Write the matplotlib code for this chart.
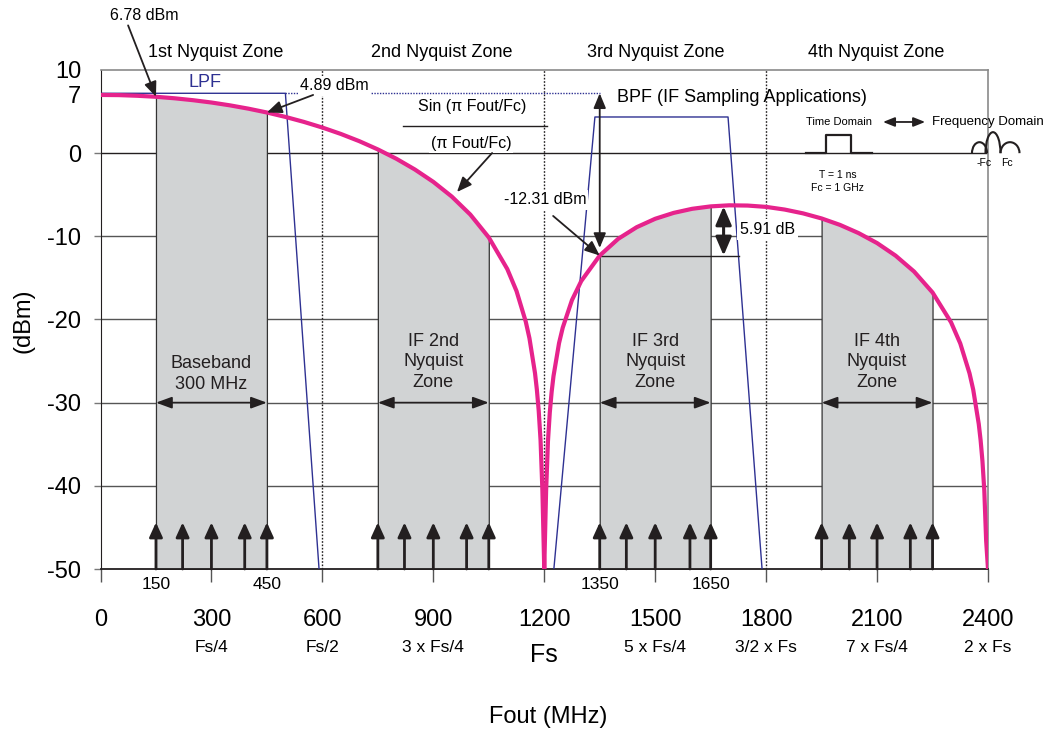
import numpy as np
import matplotlib.pyplot as plt
from matplotlib.patches import Arc

plt.rcParams['font.family'] = ['Liberation Sans', 'DejaVu Sans']

# sin(x)/x output response (MHz -> dBm)
freq_mhz = [0, 50, 100, 150, 200, 250, 300, 350, 400, 450, 500, 550, 600,
            650, 700, 750, 800, 850, 900, 950, 1000, 1050, 1100, 1125, 1150,
            1160, 1175, 1180, 1185, 1190, 1195, 1200, 1205, 1210, 1215, 1220,
            1225, 1240, 1250, 1275, 1300, 1350,
            1400, 1450, 1500, 1550, 1600, 1650, 1700, 1750, 1800, 1850, 1900,
            1950, 2000, 2050, 2100, 2150, 2200, 2250, 2300, 2325, 2350, 2360,
            2375, 2380, 2385, 2390, 2395, 2400]
level_dbm = [7.00, 6.98, 6.90, 6.78, 6.60, 6.37, 6.09, 5.75, 5.35, 4.89, 4.36,
             3.76, 3.08, 2.31, 1.44, 0.45, -0.67, -1.96, -3.45, -5.22, -7.38,
             -10.13, -13.93, -16.58, -20.26,
             -22.26, -26.45, -28.42, -30.96, -34.51, -40.57, -50.0, -40.64,
             -34.66, -31.17, -28.71, -26.81, -22.84, -20.98, -17.66, -15.38,
             -12.31, -10.30,
             -8.90, -7.89, -7.18, -6.69, -6.40, -6.27, -6.30, -6.46, -6.78,
             -7.24, -7.85, -8.63, -9.61, -10.81, -12.32, -14.23, -16.75,
             -20.33, -22.88, -26.47, -28.43, -32.56, -34.51, -37.03, -40.57,
             -46.6, -50.0]

# signal bands and tones
zone_edges = [(150, 450), (750, 1050), (1350, 1650), (1950, 2250)]
zone_tones = [[150, 222, 300, 390, 450],
              [750, 822, 900, 990, 1050],
              [1350, 1422, 1500, 1594, 1650],
              [1950, 2025, 2100, 2190, 2250]]
zone_labels = ["Baseband\n300 MHz", "IF 2nd\nNyquist\nZone",
               "IF 3rd\nNyquist\nZone", "IF 4th\nNyquist\nZone"]
nyquist_titles = ["1st Nyquist Zone", "2nd Nyquist Zone",
                  "3rd Nyquist Zone", "4th Nyquist Zone"]
nyquist_title_x = [312, 923, 1502, 2097]
nyquist_bounds = [600, 1200, 1800]

# filter masks
lpf_f = [0, 500, 591]
lpf_db = [7.2, 7.2, -50]
bpf_f = [1226, 1337, 1697, 1789]
bpf_db = [-50, 4.35, 4.35, -50]

x_ticks = [0, 300, 600, 900, 1200, 1500, 1800, 2100, 2400]
x_labels = ['0', '300', '600', '900', '1200', '1500', '1800', '2100', '2400']
x_sublabels = ['', 'Fs/4', 'Fs/2', '3 x Fs/4', '', '5 x Fs/4', '3/2 x Fs',
               '7 x Fs/4', '2 x Fs']
band_marks = [150, 450, 1350, 1650]
y_ticks = [10, 7, 0, -10, -20, -30, -40, -50]
grid_levels = [0, -10, -20, -30, -40]

PINK = '#e6238c'
BLUE = '#2e3192'
GRAY = '#d1d3d4'
INK = '#231f20'

fig = plt.figure(figsize=(10.47, 7.32), dpi=100)
ax = fig.add_axes([100.5 / 1047, 163 / 732, 887.5 / 1047, 499 / 732])
ax.set_xlim(0, 2400)
ax.set_ylim(-50, 10)

for sp in ['top', 'right']:
    ax.spines[sp].set_color('#8a8a8a')
    ax.spines[sp].set_linewidth(1.2)
ax.spines['left'].set_color(INK)
ax.spines['bottom'].set_color(INK)
ax.spines['bottom'].set_linewidth(1.3)

ax.set_yticks(y_ticks)
ax.set_yticklabels([str(v) for v in y_ticks], fontsize=17)
ax.tick_params(axis='y', length=5, width=1, color='#777777', pad=9)
for t in ax.yaxis.get_major_ticks()[:2]:
    t.tick1line.set_visible(False)
ax.set_xticks(x_ticks)
ax.set_xticklabels([])
ax.tick_params(axis='x', length=9, width=1, color='#555555')

xt = ax.get_xaxis_transform()
for x, lab, sub in zip(x_ticks, x_labels, x_sublabels):
    ax.text(x, -0.102, lab, transform=xt, ha='center', va='center', fontsize=17)
    if sub:
        ax.text(x, -0.158, sub, transform=xt, ha='center', va='center',
                fontsize=12.5)
ax.text(1200, -0.172, 'Fs', transform=xt, ha='center', va='center', fontsize=18)
for x in band_marks:
    ax.text(x, -0.032, str(x), transform=xt, ha='center', va='center',
            fontsize=12.5)

fig.text(548 / 1047, 1 - 717 / 732, 'Fout (MHz)', ha='center', va='center',
         fontsize=17)
fig.text(24 / 1047, 1 - 321 / 732, '(dBm)', ha='center', va='center',
         fontsize=17, rotation=90)

# grid
for y in grid_levels:
    ax.axhline(y, color=INK if y == 0 else '#555555', lw=1, zorder=1)
for x in nyquist_bounds:
    ax.axvline(x, color=INK, lw=1, ls=(0, (1.2, 1.2)), zorder=1.5)

for x, title in zip(nyquist_title_x, nyquist_titles):
    ax.text(x, 12.16, title, ha='center', va='center', fontsize=13,
            clip_on=False)

f = np.array(freq_mhz)
lv = np.array(level_dbm)

# shaded bands
for (lo, hi), tones, lab in zip(zone_edges, zone_tones, zone_labels):
    m = (f >= lo) & (f <= hi)
    ax.fill_between(f[m], lv[m], -50, facecolor=GRAY, edgecolor='#333333',
                    lw=0.9, zorder=2)
    for t in tones:
        ax.annotate('', xy=(t, -44.4), xytext=(t, -50),
                    arrowprops=dict(arrowstyle='-|>,head_length=0.55,head_width=0.25',
                                    mutation_scale=16, lw=2, color=INK,
                                    shrinkA=0, shrinkB=0), zorder=3)
    ax.annotate('', xy=(lo, -30), xytext=(hi, -30),
                arrowprops=dict(arrowstyle='<|-|>,head_length=0.6,head_width=0.22',
                                mutation_scale=16, lw=1.3, color=INK,
                                shrinkA=0, shrinkB=0), zorder=3)
    ny = -26.5 if lab.count('\n') == 1 else -25.1
    ax.text((lo + hi) / 2, ny, lab, ha='center', va='center', fontsize=13,
            linespacing=1.3, color=INK, zorder=4)

# filters
ax.plot(lpf_f, lpf_db, color=BLUE, lw=1, zorder=3)
ax.plot(bpf_f, bpf_db, color=BLUE, lw=1, zorder=3)
ax.plot([500, 1350], [7.2, 7.2], color=BLUE, lw=1, ls=(0, (1, 1)), zorder=3)
ax.text(283, 8.44, 'LPF', color=BLUE, ha='center', va='center', fontsize=13)

# sinc curve
ax.plot(f, lv, color=PINK, lw=3, zorder=4, solid_joinstyle='round')

WB = dict(facecolor='white', edgecolor='none', pad=1.5)
ARR = dict(arrowstyle='-|>,head_length=0.6,head_width=0.25', mutation_scale=15,
           lw=1.3, color=INK, shrinkA=0, shrinkB=0)

ax.annotate('6.78 dBm', xy=(150, 6.78), xytext=(118, 16.6), ha='center',
            va='center', fontsize=11.5, annotation_clip=False,
            arrowprops=dict(ARR, relpos=(0.25, 0)), zorder=6)
ax.annotate('', xy=(450, 4.89), xytext=(575, 7.0), arrowprops=ARR, zorder=6)
ax.text(632, 8.08, '4.89 dBm', ha='center', va='center', fontsize=11.5,
        bbox=WB, zorder=5)

ax.text(1005, 5.67, 'Sin (\u03c0 Fout/Fc)', ha='center', va='center',
        fontsize=11.5)
ax.plot([818, 1207], [3.27, 3.27], color=INK, lw=1, zorder=3)
ax.text(1002, 1.22, '(\u03c0 Fout/Fc)', ha='center', va='center',
        fontsize=11.5, bbox=WB, zorder=5)
ax.annotate('', xy=(964, -4.67), xytext=(1059, 0.02), arrowprops=ARR, zorder=6)

ax.text(1397, 6.75, 'BPF (IF Sampling Applications)', ha='left', va='center',
        fontsize=13)
ax.annotate('', xy=(1350, 7.2), xytext=(1350, -11.4),
            arrowprops=dict(ARR, arrowstyle='<|-|>,head_length=0.6,head_width=0.25'),
            zorder=6)
ax.text(1202, -5.63, '-12.31 dBm', ha='center', va='center', fontsize=11.5,
        bbox=WB, zorder=5)
ax.annotate('', xy=(1350, -12.31), xytext=(1224, -7.55), arrowprops=ARR,
            zorder=6)
ax.plot([1350, 1727], [-12.31, -12.31], color=INK, lw=1, zorder=3)
ax.annotate('', xy=(1685, -6.4), xytext=(1685, -12.31),
            arrowprops=dict(arrowstyle='<|-|>,head_length=0.7,head_width=0.3',
                            mutation_scale=16, lw=2.2, color=INK,
                            shrinkA=0, shrinkB=0), zorder=6)
ax.text(1729, -9.2, '5.91 dB', ha='left', va='center', fontsize=11.5,
        bbox=dict(facecolor='white', edgecolor='none', pad=2), zorder=5)

# time / frequency domain inset
ax.text(1998, 3.75, 'Time Domain', ha='center', va='center', fontsize=8)
ax.annotate('', xy=(2116, 3.75), xytext=(2230, 3.75),
            arrowprops=dict(arrowstyle='<|-|>,head_length=0.5,head_width=0.2',
                            mutation_scale=14, lw=1.3, color=INK,
                            shrinkA=0, shrinkB=0))
ax.text(2249, 3.75, 'Frequency Domain', ha='left', va='center', fontsize=9.5,
        clip_on=False)
ax.plot([1908, 1962, 1962, 2029, 2029, 2086], [0, 0, 2.18, 2.18, 0, 0],
        color=INK, lw=1.6, zorder=3)
ax.text(1994, -2.62, 'T = 1 ns', ha='center', va='center', fontsize=7.5)
ax.text(1994, -4.19, 'Fc = 1 GHz', ha='center', va='center', fontsize=7.5)
for cx, w, h in [(2377, 40.6, 2.64), (2413.5, 40.6, 5.05), (2459.5, 51.4, 2.64)]:
    ax.add_patch(Arc((cx, 0), w, h, theta1=0, theta2=180, color=INK, lw=1.5,
                     clip_on=False, zorder=3))
ax.text(2389, -1.18, '-Fc', ha='center', va='center', fontsize=7.5,
        clip_on=False)
ax.text(2451, -1.18, 'Fc', ha='center', va='center', fontsize=7.5,
        clip_on=False)

fig.savefig('out.png', dpi=100)
